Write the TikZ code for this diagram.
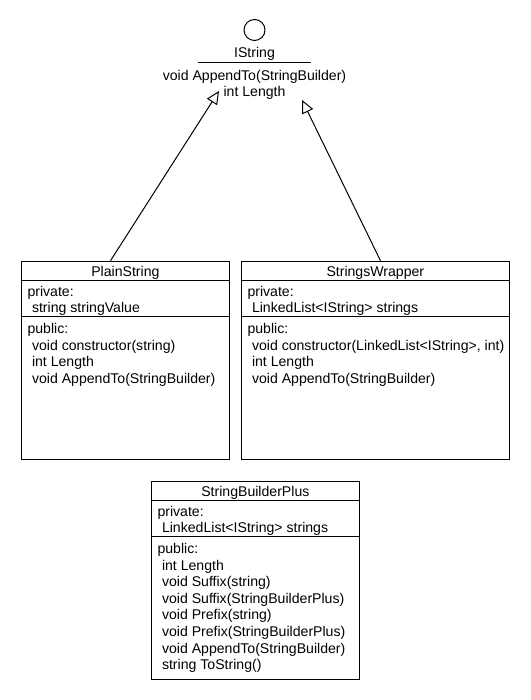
\documentclass[tikz,border=0pt]{standalone}
\usepackage{fontspec}
\setmainfont{Liberation Sans}
\usetikzlibrary{positioning,calc,arrows.meta}

\begin{document}
\begin{tikzpicture}[x=1pt,y=-1pt,line width=1pt,
        txt/.style={inner sep=0pt,font=\fontsize{14.1}{16.7}\selectfont},
        lft/.style={txt,anchor=base west},
        mid/.style={txt,anchor=base},
        classbox/.style={draw,anchor=north west,inner sep=0pt},
        realize/.style={-{Triangle[open,length=13pt,width=12pt]}}]
    \useasboundingbox[fill=white] (0,0) rectangle (530,700);

    \begin{scope}
        \node[draw,circle,minimum size=21pt,inner sep=0pt] (lolly) at (254.5,30) {};
        \node[mid] (iname) at (254.5,57.5) {IString};
        \draw (198,63) -- (311,63);
        \node[mid] (iappend) at (254.5,80.5) {void AppendTo(StringBuilder)};
        \node[mid] (ilength) at (254.5,97) {int Length};
        \coordinate (tipL) at (219,91);
        \coordinate (tipR) at (302,100);
    \end{scope}

    \begin{scope}
        \node[classbox,minimum width=208.3pt,minimum height=198.3pt] (plain) at (20.7,260.7) {};
        \draw (plain.north west) ++(0,20) -- ++(208.3,0);
        \draw (plain.north west) ++(0,56) -- ++(208.3,0);
        \node[mid] (plainname) at ($(plain.north)+(0,16)$) {PlainString};
        \node[lft] (plainpriv) at (27,296.7) {private:};
        \node[lft] (plainfield) at (31.5,312.7) {string stringValue};
        \node[lft] (plainpub) at (27,333.5) {public:};
        \foreach \t [count=\i] in {void constructor(string), int Length, void AppendTo(StringBuilder)}
            \node[lft] (plainop\i) at (31.5,333.5+16.5*\i) {\t};
    \end{scope}

    \begin{scope}
        \node[classbox,minimum width=268.3pt,minimum height=198.3pt] (wrap) at (240.7,260.7) {};
        \draw (wrap.north west) ++(0,20) -- ++(268.3,0);
        \draw (wrap.north west) ++(0,56) -- ++(268.3,0);
        \node[mid] (wrapname) at ($(wrap.north)+(0,16)$) {StringsWrapper};
        \node[lft] (wrappriv) at (247,296.7) {private:};
        \node[lft] (wrapfield) at (251.5,312.7) {LinkedList<IString> strings};
        \node[lft] (wrappub) at (247,333.5) {public:};
        \foreach \t [count=\i] in {{void constructor(LinkedList<IString>, int)}, int Length, void AppendTo(StringBuilder)}
            \node[lft] (wrapop\i) at (251.5,333.5+16.5*\i) {\t};
    \end{scope}

    \begin{scope}
        \node[classbox,minimum width=208.3pt,minimum height=198.3pt] (sbp) at (150.7,480.7) {};
        \draw (sbp.north west) ++(0,20) -- ++(208.3,0);
        \draw (sbp.north west) ++(0,56) -- ++(208.3,0);
        \node[mid] (sbpname) at ($(sbp.north)+(0,16)$) {StringBuilderPlus};
        \node[lft] (sbppriv) at (157,516.7) {private:};
        \node[lft] (sbpfield) at (161.5,532.7) {LinkedList<IString> strings};
        \node[lft] (sbppub) at (157,553.5) {public:};
        \foreach \t [count=\i] in {int Length, void Suffix(string), void Suffix(StringBuilderPlus), void Prefix(string), void Prefix(StringBuilderPlus), void AppendTo(StringBuilder), string ToString()}
            \node[lft] (sbpop\i) at (161.5,553.5+16.6*\i) {\t};
    \end{scope}

    \draw[realize] ($(plain.north west)!0.429!(plain.north east)$) -- (tipL);
    \draw[realize] ($(wrap.north west)!0.519!(wrap.north east)$) -- (tipR);
\end{tikzpicture}
\end{document}
